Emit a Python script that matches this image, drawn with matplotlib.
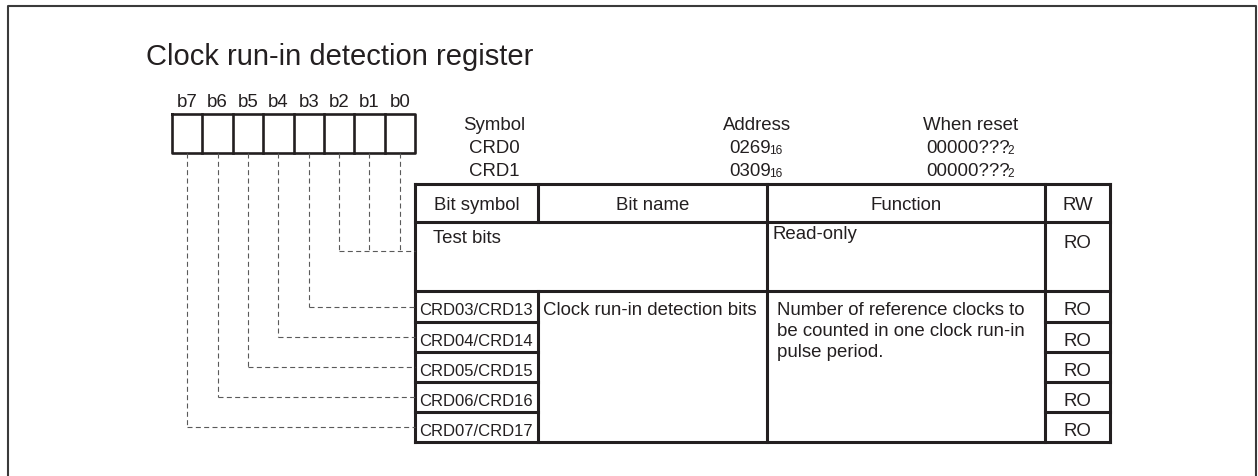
import matplotlib
matplotlib.use("Agg")
import matplotlib.pyplot as plt

plt.rcParams['font.family'] = ['Liberation Sans', 'DejaVu Sans']

# ---- content ----
title = "Clock run-in detection register"
bit_labels = ["b7", "b6", "b5", "b4", "b3", "b2", "b1", "b0"]
symbol_col = ["Symbol", "CRD0", "CRD1"]
address_col = [("Address", ""), ("0269", "16"), ("0309", "16")]
reset_col = [("When reset", ""), ("00000???", "2"), ("00000???", "2")]
col_headers = ["Bit symbol", "Bit name", "Function", "RW"]
test_bit_name = "Test bits"
test_function = "Read-only"
test_rw = "RO"
test_bits = [2, 1, 0]
bit_symbols = ["CRD03/CRD13", "CRD04/CRD14", "CRD05/CRD15", "CRD06/CRD16", "CRD07/CRD17"]
data_bits = [3, 4, 5, 6, 7]
bit_name = "Clock run-in detection bits"
function_lines = ["Number of reference clocks to",
                  "be counted in one clock run-in",
                  "pulse period."]
rw_values = ["RO", "RO", "RO", "RO", "RO"]

# ---- layout (pixels) ----
W, H = 1258, 476
fig = plt.figure(figsize=(W / 100, H / 100), dpi=100)
ax = fig.add_axes([0, 0, 1, 1])
ax.set_xlim(0, W)
ax.set_ylim(H, 0)
ax.axis('off')

TXT = '#231f20'
FS = 13.4
FS_SUB = 8.6
LW_T = 2.2
dash = (0, (4.5, 3.0))

def line(xs, ys, lw=LW_T, color=TXT, **kw):
    ax.plot(xs, ys, color=color, lw=lw, solid_capstyle='projecting', **kw)

# outer frame
line([8, 8, 1256, 1256], [480, 6, 6, 480], lw=1.5, color='#3a3a3a')

# title
ax.text(146, 65, title, fontsize=21, color=TXT, va='baseline', ha='left')

# bit box
bx0, bx1, by0, by1 = 172, 415, 114, 153
cw = (bx1 - bx0) / 8
for i, lab in enumerate(bit_labels):
    ax.text(bx0 + (i + 0.5) * cw, 107, lab, fontsize=FS, color=TXT,
            ha='center', va='baseline')
line([bx0, bx1, bx1, bx0, bx0], [by0, by0, by1, by1, by0], lw=1.9)
for i in range(1, 8):
    line([bx0 + i * cw] * 2, [by0, by1], lw=1.9)

def bit_x(b):
    return bx0 + (7 - b + 0.5) * cw

# header texts (main text + small subscript on the same baseline)
fig.canvas.draw()
renderer = fig.canvas.get_renderer()

def text_w(s, fs):
    t = ax.text(0, 0, s, fontsize=fs)
    w = t.get_window_extent(renderer).width
    t.remove()
    return w

def sub_text(xc, yb, main, sub):
    wm = text_w(main, FS)
    ws = text_w(sub, FS_SUB) if sub else 0
    split = xc + (wm - ws) / 2
    ax.text(split, yb, main, fontsize=FS, color=TXT, ha='right', va='baseline')
    if sub:
        ax.text(split - 2.0, yb + 1, sub, fontsize=FS_SUB, color=TXT,
                ha='left', va='baseline')

for k, (s, a, r) in enumerate(zip(symbol_col, address_col, reset_col)):
    yb = 130 + k * 23
    ax.text(494, yb, s, fontsize=FS, color=TXT, ha='center', va='baseline')
    sub_text(757, yb, *a)
    sub_text(971, yb, *r)

# table geometry
cx = [415, 538, 767, 1045, 1110]
y_head0, y_head1, y_test1 = 184, 222, 291
row_y = [291, 322, 352, 382, 412, 442]
y_end = row_y[-1]

for y in (y_head0, y_head1, y_test1, y_end):
    line([cx[0], cx[-1]], [y, y])
for y in row_y[1:-1]:
    line([cx[0], cx[1]], [y, y])
    line([cx[3], cx[4]], [y, y])
for x in (cx[0], cx[2], cx[3], cx[4]):
    line([x, x], [y_head0, y_end])
line([cx[1], cx[1]], [y_head0, y_head1])
line([cx[1], cx[1]], [y_test1, y_end])

# column headers
for i, h in enumerate(col_headers):
    ax.text((cx[i] + cx[i + 1]) / 2, 210, h, fontsize=FS, color=TXT,
            ha='center', va='baseline')

# test bits row
ax.text(433, 243, test_bit_name, fontsize=FS, color=TXT, va='baseline')
ax.text(772, 239, test_function, fontsize=FS, color=TXT, va='baseline')
ax.text((cx[3] + cx[4]) / 2, 248, test_rw, fontsize=FS, color=TXT,
        ha='center', va='baseline')

# data rows
for i, (sym, rw) in enumerate(zip(bit_symbols, rw_values)):
    top = row_y[i]
    ax.text(419, top + 24, sym, fontsize=12.0, color=TXT, va='baseline')
    ax.text((cx[3] + cx[4]) / 2, top + 24, rw, fontsize=FS, color=TXT,
            ha='center', va='baseline')
ax.text(543, row_y[0] + 24, bit_name, fontsize=FS, color=TXT, va='baseline')
for j, t in enumerate(function_lines):
    ax.text(777, row_y[0] + 24 + j * 21, t, fontsize=FS, color=TXT, va='baseline')

# dashed leaders
DC = '#5a5a5a'
y_test_lead = 251
for b in test_bits:
    ax.plot([bit_x(b)] * 2, [by1, y_test_lead], color=DC, lw=0.8, ls=dash)
ax.plot([bit_x(max(test_bits)), cx[0]], [y_test_lead] * 2, color=DC, lw=0.8, ls=dash)
for i, b in enumerate(data_bits):
    yc = (row_y[i] + row_y[i + 1]) / 2
    ax.plot([bit_x(b)] * 2, [by1, yc], color=DC, lw=0.8, ls=dash)
    ax.plot([bit_x(b), cx[0]], [yc, yc], color=DC, lw=0.8, ls=dash)

fig.savefig("out.png", dpi=100)
